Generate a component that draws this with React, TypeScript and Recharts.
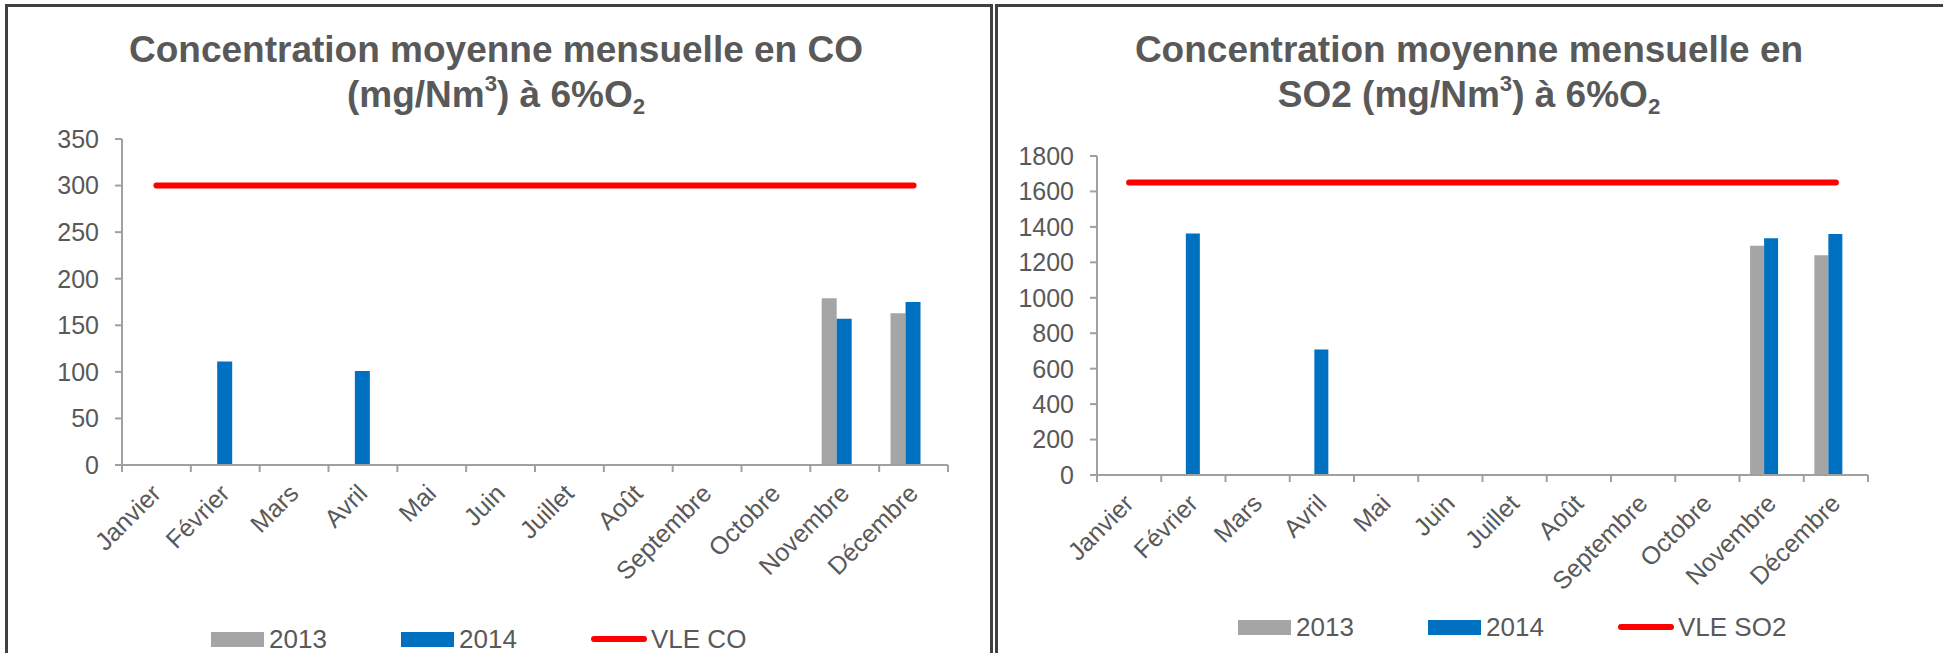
import React from "react";
import { ComposedChart, Bar, Line, XAxis, YAxis, Legend } from "recharts";

const mois = [
  "Janvier",
  "Février",
  "Mars",
  "Avril",
  "Mai",
  "Juin",
  "Juillet",
  "Août",
  "Septembre",
  "Octobre",
  "Novembre",
  "Décembre",
];

// CO (mg/Nm3 à 6% O2)
const co2013 = [null, null, null, null, null, null, null, null, null, null, 179, 163];
const co2014 = [null, 111, null, 101, null, null, null, null, null, null, 157, 175];
const vleCO = [300, 300, 300, 300, 300, 300, 300, 300, 300, 300, 300, 300];
const coTicks = [0, 50, 100, 150, 200, 250, 300, 350];

// SO2 (mg/Nm3 à 6% O2)
const so2_2013 = [null, null, null, null, null, null, null, null, null, null, 1293, 1240];
const so2_2014 = [null, 1362, null, 708, null, null, null, null, null, null, 1336, 1360];
const vleSO2 = [1650, 1650, 1650, 1650, 1650, 1650, 1650, 1650, 1650, 1650, 1650, 1650];
const so2Ticks = [0, 200, 400, 600, 800, 1000, 1200, 1400, 1600, 1800];

// troisième colonne de chaque mois, restée vide dans le classeur
const colonneVide = [null, null, null, null, null, null, null, null, null, null, null, null];

const FONT = "'Liberation Sans', Arial, sans-serif";
const TEXT = "#595959";
const AXIS = "#a0a0a0";
const GRIS = "#a5a5a5";
const BLEU = "#0070c0";
const ROUGE = "#ff0000";

function buildRows(a2013: (number | null)[], a2014: (number | null)[], vle: number[]) {
  return mois.map((m, i) => ({
    mois: m,
    a2013: a2013[i],
    a2014: a2014[i],
    vide: colonneVide[i],
    vle: vle[i],
  }));
}

function MonthTick(props: any) {
  const { x, y, payload, index, width, visibleTicksCount } = props;
  const band = width / visibleTicksCount;
  const lx = x + 6;
  const ly = y + 30;
  return (
    <g>
      <line x1={x - band / 2} y1={y} x2={x - band / 2} y2={y + 7} stroke={AXIS} strokeWidth={2} />
      {index === visibleTicksCount - 1 && (
        <line x1={x + band / 2} y1={y} x2={x + band / 2} y2={y + 7} stroke={AXIS} strokeWidth={2} />
      )}
      <text
        x={lx}
        y={ly}
        transform={`rotate(-45 ${lx} ${ly})`}
        textAnchor="end"
        fill={TEXT}
        fontSize={25}
        fontFamily={FONT}
      >
        {payload.value}
      </text>
    </g>
  );
}

function LegendContent(props: any) {
  const items = (props.payload || []).filter((e: any) => e.type !== "none");
  return (
    <div style={{ display: "flex", fontFamily: FONT, fontSize: 26, color: TEXT, lineHeight: "20px" }}>
      {items.map((e: any) => (
        <div key={e.value} style={{ width: 190, height: 20, display: "flex", alignItems: "center" }}>
          {e.type === "line" ? (
            <span style={{ width: 56, height: 6, borderRadius: 3, background: e.color, marginRight: 4 }} />
          ) : (
            <span style={{ width: 53, height: 15, background: e.color, marginRight: 5 }} />
          )}
          <span>{e.value}</span>
        </div>
      ))}
    </div>
  );
}

type PanelProps = {
  x: number;
  width: number;
  title: React.ReactNode;
  rows: any[];
  ticks: number[];
  vleName: string;
  yAxisWidth: number;
  marginTop: number;
  marginRight: number;
  xAxisHeight: number;
  legendLeft: number;
  legendTop: number;
};

function Panel(p: PanelProps) {
  const max = p.ticks[p.ticks.length - 1];
  return (
    <>
      <div
        style={{
          position: "absolute",
          left: p.x,
          top: 27,
          width: p.width,
          textAlign: "center",
          fontFamily: FONT,
          fontWeight: "bold",
          fontSize: 37,
          lineHeight: "45px",
          color: TEXT,
        }}
      >
        {p.title}
      </div>
      <div style={{ position: "absolute", left: p.x, top: 0 }}>
        <ComposedChart
          width={p.width}
          height={653}
          data={p.rows}
          margin={{ top: p.marginTop, right: p.marginRight, bottom: 0, left: 0 }}
          barGap={0}
          barCategoryGap="16.5%"
        >
          <XAxis
            dataKey="mois"
            interval={0}
            height={p.xAxisHeight}
            tickSize={0}
            tickMargin={0}
            tickLine={false}
            axisLine={{ stroke: AXIS, strokeWidth: 2 }}
            tick={<MonthTick />}
          />
          <YAxis
            width={p.yAxisWidth}
            domain={[0, max]}
            ticks={p.ticks}
            interval={0}
            tickSize={7}
            tickMargin={16}
            axisLine={{ stroke: AXIS, strokeWidth: 2 }}
            tickLine={{ stroke: AXIS, strokeWidth: 2 }}
            tick={{ fill: TEXT, fontSize: 25, fontFamily: FONT }}
          />
          <Bar dataKey="a2013" name="2013" fill={GRIS} isAnimationActive={false} />
          <Bar dataKey="a2014" name="2014" fill={BLEU} isAnimationActive={false} />
          <Bar dataKey="vide" name="vide" fill="none" legendType="none" isAnimationActive={false} />
          <Line
            dataKey="vle"
            name={p.vleName}
            stroke={ROUGE}
            strokeWidth={6}
            strokeLinecap="round"
            dot={false}
            activeDot={false}
            legendType="line"
            isAnimationActive={false}
          />
          <Legend
            layout="horizontal"
            verticalAlign="middle"
            align="center"
            wrapperStyle={{ left: p.legendLeft, top: p.legendTop, width: 600 }}
            content={<LegendContent />}
          />
        </ComposedChart>
      </div>
    </>
  );
}

const supStyle: React.CSSProperties = { fontSize: "0.6em", verticalAlign: "0.7em", lineHeight: 0 };
const subStyle: React.CSSProperties = { fontSize: "0.6em", verticalAlign: "-0.3em", lineHeight: 0 };

export default function App() {
  return (
    <div
      style={{
        position: "absolute",
        left: 0,
        top: 0,
        width: 1943,
        height: 653,
        overflow: "hidden",
        background: "#fff",
      }}
    >
      <div
        style={{
          position: "absolute",
          left: 5,
          top: 4,
          width: 988,
          height: 700,
          border: "3px solid #404040",
          borderBottom: "none",
          boxSizing: "border-box",
        }}
      />
      <div
        style={{
          position: "absolute",
          left: 995,
          top: 4,
          width: 1000,
          height: 700,
          borderLeft: "3px solid #404040",
          borderTop: "3px solid #404040",
          boxSizing: "border-box",
        }}
      />
      <Panel
        x={0}
        width={992}
        title={
          <>
            Concentration moyenne mensuelle en CO
            <br />
            (mg/Nm<span style={supStyle}>3</span>) à 6%O<span style={subStyle}>2</span>
          </>
        }
        rows={buildRows(co2013, co2014, vleCO)}
        ticks={coTicks}
        vleName="VLE CO"
        yAxisWidth={122}
        marginTop={139}
        marginRight={44}
        xAxisHeight={188}
        legendLeft={211}
        legendTop={629}
      />
      <Panel
        x={995}
        width={948}
        title={
          <>
            Concentration moyenne mensuelle en
            <br />
            SO2 (mg/Nm<span style={supStyle}>3</span>) à 6%O<span style={subStyle}>2</span>
          </>
        }
        rows={buildRows(so2_2013, so2_2014, vleSO2)}
        ticks={so2Ticks}
        vleName="VLE SO2"
        yAxisWidth={102}
        marginTop={156}
        marginRight={75}
        xAxisHeight={178}
        legendLeft={243}
        legendTop={617}
      />
    </div>
  );
}
